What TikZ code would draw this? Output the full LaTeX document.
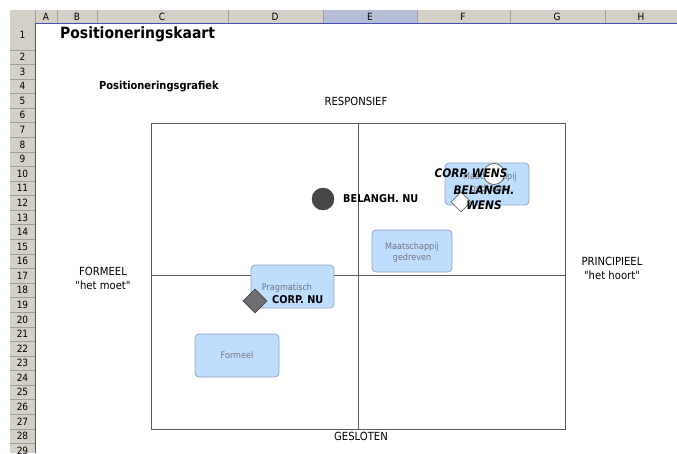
\documentclass[tikz,border=0pt]{standalone}
\usepackage{fontspec}
\setmainfont{DejaVu Sans Condensed}
\usetikzlibrary{shapes.geometric}
\definecolor{hdr}{RGB}{212,208,200}
\definecolor{hdrsel}{RGB}{182,189,214}
\definecolor{hdrline}{RGB}{160,158,150}
\definecolor{selblue}{RGB}{70,80,180}
\definecolor{boxfill}{RGB}{190,221,255}
\definecolor{boxline}{RGB}{150,165,190}
\definecolor{boxtext}{RGB}{115,115,125}
\definecolor{axisgray}{RGB}{90,90,90}
\definecolor{darkdot}{RGB}{70,70,70}
\definecolor{diagray}{RGB}{110,110,115}
\tikzset{
  hdrtext/.style={font=\fontsize{10}{12}\selectfont, inner sep=0pt},
  lbl/.style={font=\fontsize{11.2}{14}\selectfont, inner sep=0pt, align=center},
  qbox/.style={draw=boxline, fill=boxfill, rounded corners=4pt, line width=0.8pt},
  qtext/.style={font=\fontsize{9}{11.5}\selectfont, text=boxtext, align=center, inner sep=0pt},
  mlabel/.style={font=\bfseries\fontsize{10.8}{13}\selectfont, inner sep=0pt, anchor=west},
  mitlabel/.style={font=\bfseries\itshape\fontsize{11.8}{15.5}\selectfont, inner sep=0pt, align=center},
}
\begin{document}
\begin{tikzpicture}[x=1pt,y=-1pt]
\useasboundingbox (0,0) rectangle (677,453);
\fill[white] (0,0) rectangle (677,453);
% column header
\fill[hdr] (10,10) rectangle (677,23);
\fill[hdrsel] (323,10) rectangle (417,23);
\foreach \xb in {35,57,97,228,323,417,510,605}
  \draw[hdrline] (\xb,10) -- (\xb,23);
\foreach \xc/\t in {46/A,77/B,162/C,275/D,370/E,463/F,557/G,641/H}
  \node[hdrtext] (col\t) at (\xc,16.8) {\t};
% row header
\fill[hdr] (10,23) rectangle (35,453);
\draw[hdrline] (10,49.7) -- (35,49.7);
\foreach \r in {2,...,29}{
  \pgfmathsetmacro{\yt}{49.7+(\r-1)*14.58}
  \draw[hdrline] (10,\yt) -- (35,\yt);
  \pgfmathsetmacro{\yc}{49.7+(\r-2)*14.58+7.29}
  \node[hdrtext] (row\r) at (22.5,\yc) {\r};
}
\node[hdrtext] (row1) at (22.5,35) {1};
\draw[selblue, line width=0.9pt] (35,23) -- (677,23);
\draw[selblue, line width=0.9pt] (35,23) -- (35,453);
% titles
\node[anchor=west, inner sep=0pt, font=\bfseries\fontsize{15.5}{18}\selectfont] (title) at (60,34) {Positioneringskaart};
\node[anchor=west, inner sep=0pt, font=\bfseries\fontsize{11}{13}\selectfont] (subtitle) at (99,86.5) {Positioneringsgrafiek};
% plot frame
\draw[axisgray, line width=0.8pt] (151,123) rectangle (565,429);
\coordinate (vtop) at (358,123);
\coordinate (vbot) at (358,429);
\coordinate (hl) at (151,275.5);
\coordinate (hr) at (565,275.5);
\draw[axisgray, line width=0.7pt] (vtop) -- (vbot);
\draw[axisgray, line width=0.7pt] (hl) -- (hr);
% axis labels
\node[lbl] (resp) at (356,101) {RESPONSIEF};
\node[lbl] (gesl) at (361,436.5) {GESLOTEN};
\node[lbl] (form) at (103,278) {FORMEEL\\\textquotedbl het moet\textquotedbl};
\node[lbl] (princ) at (612,268) {PRINCIPIEEL\\\textquotedbl het hoort\textquotedbl};
% quadrant boxes
\draw[qbox] (195,334) rectangle (279,377);
\node[qtext] (tformeel) at (237,355.5) {Formeel};
\draw[qbox] (251,265) rectangle (334,308);
\node[qtext] (tprag) at (287,288) {Pragmatisch};
\draw[qbox] (372,230) rectangle (452,272);
\node[qtext] (tmaat) at (412,252.5) {Maatschappij\\gedreven};
\draw[qbox] (445,163) rectangle (529,205);
\node[qtext] (tmaat2) at (490,183) {Maatschappij\\gedreven};
% markers
\node[circle, fill=darkdot, draw=darkdot!80!black, minimum size=22pt, inner sep=0pt] (belnu) at (323,199) {};
\node[mlabel] (belnulbl) at (343,198.5) {BELANGH. NU};
\node[circle, fill=white, draw=darkdot, line width=0.6pt, minimum size=21pt, inner sep=0pt] (corpwens) at (494,174) {};
\node[diamond, fill=white, draw=diagray, line width=0.6pt, minimum width=20pt, minimum height=20pt, inner sep=0pt] (belwens) at (461,202) {};
\node[mitlabel] (corpwenslbl) at (471,173) {CORP. WENS};
\node[mitlabel] (belwenslbl) at (484,197.5) {BELANGH.\\WENS};
\node[diamond, fill=diagray, draw=darkdot, line width=0.6pt, minimum width=24pt, minimum height=24pt, inner sep=0pt] (corpnu) at (255,301) {};
\node[mlabel] (corpnulbl) at (272,300) {CORP. NU};
\end{tikzpicture}
\end{document}
